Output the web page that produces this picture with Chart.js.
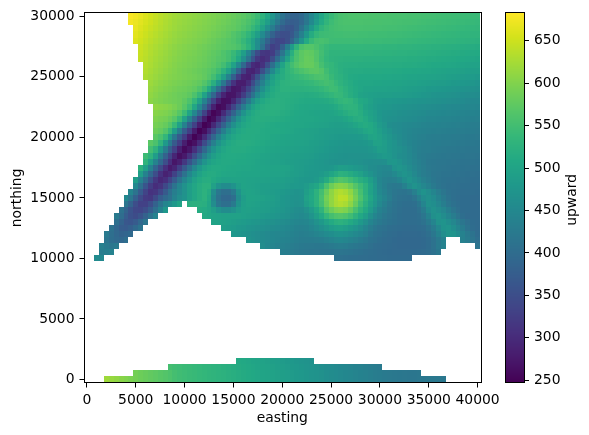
<!DOCTYPE html>
<html><head><meta charset="utf-8">
<style>html,body{margin:0;padding:0;background:#fff}canvas{position:absolute;left:0;top:0}</style>
<script src="https://cdn.jsdelivr.net/npm/chart.js@4"></script>
</head><body>
<canvas id="main" width="589" height="435"></canvas>
<canvas id="bar" width="589" height="435"></canvas>
<script>
const xTicks=[0,5000,10000,15000,20000,25000,30000,35000,40000];
const yTicks=[0,5000,10000,15000,20000,25000,30000];
const cbTicks=[250,300,350,400,450,500,550,600,650];
const colorbarLabel='upward';
const spacing=500;
const vMin=247.3, vMax=682.4;
const viridis=["#440154","#481a6c","#472f7d","#414487","#39568c","#31688e","#2a788e","#23888e","#1f988b","#22a884","#35b779","#54c568","#7ad151","#a5db36","#d2e21b","#fde725"];

const n30000=[680,675,668,660,652,645,638,632,627,622,618,615,612,609,606,603,600,597,594,590,586,582,577,572,565,556,544,528,505,475,442,412,392,385,385,395,418,448,478,505,525,540,550,556,558,560,560,560,560,559,559,558,558,557,556,556,555,554,554,553,552,551,550,549,548,547,546,545,544,543,542,541];
const n29500=[676,671,664,657,650,643,636,630,625,620,616,613,610,607,604,601,598,595,591,587,583,578,573,567,559,549,535,515,490,458,425,398,380,375,378,392,420,452,485,512,532,545,552,556,558,558,558,558,557,557,556,556,555,555,554,553,552,552,551,550,549,548,547,546,545,544,543,542,541,540,539,538];
const n29000=[668,660,653,646,640,634,628,623,618,614,611,608,605,602,599,596,592,588,584,579,576,570,562,552,538,520,495,462,430,395,375,363,362,378,408,445,480,510,530,542,549,552,554,555,555,555,555,554,554,553,553,552,551,551,550,549,548,547,546,545,544,543,542,541,540,539,538,537,536,535,534];
const n28500=[664,656,649,642,636,630,625,620,615,611,608,605,602,599,596,592,588,584,579,574,565,557,547,533,515,490,455,420,385,360,350,352,366,396,435,478,515,535,544,546,548,549,549,550,550,550,549,549,548,548,547,547,546,546,545,544,543,542,541,540,539,538,537,536,535,534,533,532,531,530,529];
const n28000=[660,652,645,638,632,627,622,617,612,608,605,602,599,596,592,588,583,578,573,568,562,552,538,520,495,462,425,385,352,338,338,352,382,425,470,512,540,552,555,552,546,545,545,545,545,545,545,544,544,543,543,542,542,541,540,539,538,537,536,535,534,533,532,531,530,529,528,527,526,525,524];
const n27500=[648,641,634,628,623,618,613,608,604,601,598,595,591,587,583,579,575,571,568,565,558,545,527,500,460,410,360,328,338,380,430,485,530,558,566,566,558,548,540,535,535,535,535,535,535,535,534,534,533,533,532,532,531,530,530,529,528,527,526,525,524,523,522,521,520,519,518,517,516,515];
const n27000=[646,639,632,626,621,616,611,606,602,599,596,593,589,585,580,575,570,562,553,540,520,490,445,395,345,318,314,325,365,415,470,520,555,572,578,575,565,550,538,530,530,530,530,530,530,530,529,529,528,528,527,527,526,525,525,524,523,522,521,520,519,518,517,516,515,514,513,512,511,510];
const n26500=[644,637,630,624,619,614,609,604,600,597,594,591,587,583,578,573,567,562,552,535,508,465,415,362,318,302,312,350,400,450,500,535,558,572,580,578,565,548,535,528,526,525,524,523,523,523,522,522,522,522,521,521,520,520,519,518,518,517,516,515,514,513,512,511,510,509,508,506,505,503];
const n26000=[635,628,622,617,612,607,602,598,595,592,589,585,581,576,570,562,550,530,498,450,395,340,300,292,310,350,405,455,500,530,550,565,575,580,580,570,553,540,535,527,522,520,519,519,518,518,518,518,517,517,517,516,516,515,515,514,513,512,510,509,508,507,506,505,503,502,500,498,497];
const n25500=[632,625,619,614,609,604,600,596,592,589,585,581,576,570,562,548,525,495,445,385,330,292,287,305,350,400,450,490,515,530,540,550,558,565,570,572,565,548,535,530,522,517,515,514,514,513,513,513,513,512,512,511,510,509,508,507,506,505,505,503,502,500,498,497,495,494,492,491,490];
const n25000=[628,622,616,611,606,602,599,596,593,590,587,583,577,567,550,525,490,438,380,325,290,285,315,360,410,455,490,510,517,527,533,538,542,547,552,558,560,553,540,530,525,518,512,510,509,509,508,508,508,507,506,505,504,503,502,501,500,499,498,497,495,494,492,490,489,487,485,484,482];
const n24500=[618,612,607,603,599,595,592,589,586,582,576,565,548,520,475,420,362,310,280,280,302,345,392,438,475,500,515,525,528,530,530,532,535,538,543,548,552,548,538,528,520,514,508,505,504,504,503,503,502,501,500,499,498,496,495,493,492,490,489,487,486,484,482,481,479,477,475,473];
const n24000=[614,608,603,599,595,591,587,585,581,575,563,545,510,458,402,345,298,272,275,298,335,378,422,463,492,510,518,525,525,523,523,524,525,527,530,535,541,547,545,535,525,516,510,505,500,499,498,498,497,496,495,494,492,491,489,487,485,482,481,479,478,476,474,472,470,468,466,465];
const n23500=[610,604,599,595,591,587,583,580,574,560,538,498,445,390,335,290,268,270,290,325,368,412,455,487,505,515,520,520,520,518,517,516,515,516,518,522,527,533,540,538,528,518,510,500,495,493,492,491,490,490,489,488,486,485,483,481,478,475,473,471,470,468,466,464,462,460,459,458];
const n23000=[606,601,597,593,590,587,584,574,560,535,495,440,385,330,285,262,265,292,332,378,422,465,492,508,516,520,522,520,518,516,514,512,510,510,510,511,513,518,525,533,537,533,522,510,505,495,486,484,482,481,480,478,476,474,473,471,470,468,466,465,463,461,459,457,455,453,451,450];
const n22500=[610,607,604,600,593,584,568,545,505,452,395,338,285,255,262,293,335,382,428,468,495,510,517,520,522,522,520,517,514,511,509,507,506,505,505,505,507,512,520,527,530,527,515,500,492,485,480,477,475,473,471,469,467,465,463,461,460,458,456,454,453,451,450,449,447,446,445];
const n22000=[604,601,598,592,583,568,543,502,448,390,332,280,251,262,298,340,385,430,470,495,510,517,520,521,521,520,517,514,511,508,506,504,503,502,501,500,501,504,510,517,523,525,518,505,495,488,478,473,470,468,465,463,461,460,458,456,453,452,450,449,448,446,445,444,442,441,440];
const n21500=[598,594,590,582,568,542,498,442,385,330,280,248,260,295,338,382,428,468,493,508,515,518,518,517,516,515,513,510,508,506,505,505,505,503,501,499,497,495,497,503,510,517,520,512,500,490,480,470,467,464,461,459,457,455,453,451,447,446,445,444,443,441,440,439,437,436,435];
const n21000=[592,587,580,566,540,495,438,380,330,282,248,258,295,338,382,428,465,490,505,512,515,515,514,512,510,509,508,507,506,505,505,503,501,499,497,495,492,491,490,492,496,503,510,515,510,500,485,475,462,458,455,452,450,448,446,444,442,441,440,439,438,436,435,434,432,431,430];
const n20500=[585,578,565,538,488,430,372,328,280,248,262,298,342,388,432,468,492,505,512,515,515,514,512,510,510,510,508,506,504,502,500,498,496,494,491,489,488,487,487,487,488,490,495,505,510,503,492,480,470,460,455,450,447,444,442,440,437,436,435,434,433,432,431,430,429,428,427];
const n20000=[570,558,535,480,420,368,325,278,250,265,300,345,390,435,470,492,505,512,515,515,514,513,512,510,507,505,503,502,501,500,499,498,495,492,490,487,485,483,482,481,481,481,483,488,500,503,495,485,475,465,457,450,445,441,438,435,433,431,430,429,428,427,426,425,424,424,423];
const n19500=[570,558,530,482,425,370,328,282,254,266,300,345,390,435,470,492,506,513,517,517,516,514,512,510,507,505,503,501,500,499,498,497,495,492,490,487,484,481,479,477,476,475,475,476,478,483,495,496,488,478,470,460,452,445,440,436,433,431,429,428,427,426,425,424,423,422,421,420];
const n19000=[550,528,482,428,375,330,285,258,272,305,348,392,435,470,492,505,512,515,515,514,512,510,508,506,503,501,499,497,496,495,494,493,492,490,487,484,481,478,476,474,473,472,472,472,473,475,481,490,487,478,470,465,457,448,440,434,431,430,427,425,423,422,421,420,419,418,418,417];
const n18500=[545,528,488,432,382,335,292,263,275,308,350,392,435,468,490,503,510,512,512,511,510,508,506,504,502,500,498,496,494,493,492,491,490,488,486,483,480,477,474,472,470,469,468,468,468,468,470,472,477,483,480,470,462,458,450,441,433,429,425,423,421,420,419,418,417,416,415,415,414];
const n18000=[530,490,442,395,350,305,272,285,318,358,398,440,472,492,503,509,511,511,510,509,508,506,504,502,500,498,496,495,493,491,490,488,487,485,483,480,477,474,471,469,468,468,470,469,466,463,462,461,461,463,475,478,470,460,452,444,436,428,422,420,418,417,416,415,414,413,412,412,411];
const n17500=[525,492,440,388,345,305,278,292,328,368,408,448,480,498,508,512,512,510,508,507,506,505,504,503,502,501,500,500,500,500,497,493,489,486,483,481,479,477,476,478,484,490,488,484,480,475,468,460,457,452,448,450,470,475,468,458,447,438,430,423,419,417,415,414,413,412,411,410,409,408];
const n17000=[490,440,392,350,310,287,298,332,372,410,448,478,498,510,515,514,510,506,505,505,503,502,502,502,501,500,499,498,497,497,494,491,488,485,482,480,480,483,490,503,515,525,522,515,505,495,482,470,460,450,445,443,452,465,472,465,452,440,430,425,418,415,413,412,411,410,408,407,406,405];
const n16500=[490,442,398,355,318,295,305,335,372,410,445,472,495,510,517,518,510,503,498,498,500,500,500,498,497,496,495,494,493,492,492,489,486,483,480,478,478,483,495,515,540,555,565,560,548,535,520,510,490,470,447,438,434,435,445,462,472,462,450,438,428,420,414,411,409,408,407,406,405,404,403];
const n16000=[450,405,362,325,302,312,340,375,412,445,468,490,505,517,523,523,495,470,458,458,470,490,500,498,495,493,491,490,489,488,488,485,482,481,480,485,495,505,525,558,585,600,605,600,585,565,545,525,500,475,448,436,425,422,424,437,458,471,462,448,438,425,416,410,407,406,405,404,403,402,401];
const n15500=[445,412,372,335,310,315,338,370,405,432,450,468,490,505,517,525,515,460,420,405,405,425,470,495,500,497,494,491,489,487,484,482,478,474,470,472,490,505,525,550,582,608,625,632,626,610,583,553,525,497,478,452,440,426,418,414,413,418,435,458,470,460,445,430,417,408,405,403,402,401,401,400];
const n15000=[450,418,380,345,322,318,342,375,395,410,440,460,470,490,505,517,525,510,450,410,395,392,405,460,488,500,500,497,495,492,490,485,478,474,470,468,470,495,508,525,555,590,610,628,640,638,618,590,560,532,505,482,460,445,430,415,410,408,407,415,435,458,465,455,440,425,412,405,402,400,399,398,398];
const n14500a=[415,385,350,330,330,350,382,415,445,460,480,500];
const n14500b=[520,522,522,520,505,460,420,405,405,425,470,492,497,495,493,491,489,487,483,478,474,470,466,468,490,505,525,552,585,610,626,632,626,608,580,548,522,495,475,452,436,422,412,407,404,403,405,420,445,466,462,448,433,418,408,403,400,399,398,398];
const n14000a=[410,385,358,340,338,350,375,405,440,480];
const n14000b=[515,512,505,490,470,458,458,468,485,493,494,492,490,488,486,483,480,475,470,465,460,458,468,485,505,530,565,585,598,602,597,580,555,530,510,485,462,440,428,418,410,405,402,401,402,410,428,455,468,460,448,432,418,406,400,399,398,398];
const n13500a=[425,402,375,355,348,360,382,410,440];
const n13500b=[510,505,500,497,495,495,496,495,493,490,488,486,483,480,477,474,470,466,460,455,452,457,472,490,510,535,552,562,565,560,548,528,508,490,465,445,432,422,414,408,404,402,401,401,405,418,440,465,472,460,445,430,415,403,398,397,397];
const n13000a=[405,385,365,362,372,392,415];
const n13000b=[500,497,495,493,490,487,484,481,478,475,472,469,466,463,460,456,451,447,445,447,455,468,482,497,512,522,525,520,510,497,482,465,445,432,424,416,411,407,404,402,402,402,404,410,425,445,468,473,462,448,432,418,406,399,397];
const n12500a=[410,390,375,372,380,395,412];
const n12500b=[490,487,484,480,477,473,470,467,464,461,458,455,452,449,445,440,438,440,447,455,465,475,487,493,495,490,482,472,460,445,430,420,413,408,404,401,399,398,398,398,399,402,412,428,450,470,474,462,445,428,412,402,397];
const n12000a=[425,405,392,385,388,395];
const n12000b=[478,474,470,467,463,460,456,452,449,446,447,444,440,436,432,434,438,443,448,455,462,468,470,466,460,452,445,435,422,412,408,403,400,397,395,394,394,394,395,397,405,420,440,462,474,472,458,440,425,412,400];
const n11500a=[415,403,396,393,403];
const n11500b=[470,465,460,456,452,449,445,442,440,436,432,428,428,429,430,433,438,444,448,450,447,442,435,428,421,413,408,403,400,398,395,393,392,392,392,393,395,400,410,425,440];
const n11500c=[438,428,415,405];
const n11000a=[435,425,418,425];
const n11000b=[460,450,445,440,437,434,431,427,424,422,421,420,420,422,425,428,430,428,424,420,416,412,406,402,400,398,396,394,393,392,392,392,393,395,400,410,425,440];
const n11000c=[412];
const n10500a=[430,432,440];
const n10500b=[433,430,427,423,420,418,416,415,414,414,414,415,415,414,412,409,407,404,402,400,398,396,395,394,394,394,394,395,396,398,402,408,420];
const n10000a=[455,450];
const n10000b=[408,406,405,404,403,402,401,400,399,397,397,396,396,396,396,396];
const n1500=[510,508,505,502,500,497,494,491,488,485,482,479,476,473,470,466];
const n1000=[552,548,545,542,540,537,535,532,530,527,525,522,519,516,513,510,508,505,502,500,497,494,491,488,485,482,479,476,473,470,466,462,458,455,452,449,446,443,440,437,434,431,428,425];
const n500=[590,585,581,577,573,569,565,560,552,548,545,542,540,537,535,532,530,527,525,522,519,516,513,510,508,505,502,500,497,494,491,488,485,482,479,476,473,470,466,462,458,455,452,449,446,443,440,437,434,431,428,425,423,421,420,419,418,418,419];
const n0=[620,615,610,605,600,595,590,585,581,577,573,569,565,560,552,548,545,542,540,537,535,532,530,527,525,522,519,516,513,510,508,505,502,500,497,494,491,488,485,482,479,476,473,470,466,462,458,455,452,449,446,443,440,437,434,431,428,425,423,421,420,419,418,418,419,420,421,422,421,420];

const rowTable=[
[30000,9,n30000],[29500,9,n29500],[29000,10,n29000],[28500,10,n28500],[28000,10,n28000],
[27500,11,n27500],[27000,11,n27000],[26500,11,n26500],[26000,12,n26000],[25500,12,n25500],[25000,12,n25000],
[24500,13,n24500],[24000,13,n24000],[23500,13,n23500],[23000,13,n23000],
[22500,14,n22500],[22000,14,n22000],[21500,14,n21500],[21000,14,n21000],[20500,14,n20500],[20000,14,n20000],
[19500,13,n19500],[19000,13,n19000],[18500,12,n18500],[18000,12,n18000],[17500,11,n17500],[17000,11,n17000],
[16500,10,n16500],[16000,10,n16000],[15500,9,n15500],[15000,8,n15000],
[14500,8,n14500a],[14500,21,n14500b],[14000,7,n14000a],[14000,23,n14000b],[13500,6,n13500a],[13500,24,n13500b],
[13000,6,n13000a],[13000,26,n13000b],[12500,5,n12500a],[12500,28,n12500b],[12000,4,n12000a],[12000,30,n12000b],
[11500,4,n11500a],[11500,33,n11500b],[11500,77,n11500c],[11000,3,n11000a],[11000,36,n11000b],[11000,80,n11000c],
[10500,3,n10500a],[10500,40,n10500b],[10000,2,n10000a],[10000,51,n10000b],
[1500,31,n1500],[1000,17,n1000],[500,10,n500],[0,4,n0]
];

function hexRgb(h){return [1,3,5].map(i=>parseInt(h.substr(i,2),16));}
const stops=viridis.map(hexRgb);
function colorOf(v){
  const t=Math.max(0,Math.min(1,(v-vMin)/(vMax-vMin)))*(stops.length-1);
  const a=Math.min(stops.length-2,Math.floor(t)),f=t-a;
  const c=stops[a].map((s,n)=>Math.round(s+(stops[a+1][n]-s)*f));
  return `rgb(${c[0]},${c[1]},${c[2]})`;
}
const cells=[];
rowTable.forEach(([north,start,vals])=>vals.forEach((v,n)=>{
  cells.push({x:(start+n)*spacing,y:north,v});
}));
const font={family:"'DejaVu Sans'",size:13.9};
const axisCommon=(ticks)=>({
  type:'linear',bounds:'data',
  afterBuildTicks:s=>{s.ticks=ticks.map(v=>({value:v}));},
  grid:{display:true,drawOnChartArea:false,drawTicks:true,tickLength:5,tickColor:'#000',tickWidth:1},
  border:{display:true,color:'#000',width:1},
  ticks:{color:'#000',font,padding:5,maxRotation:0,autoSkip:false,callback:v=>String(v)}
});
const cellPlugin={id:'cells',beforeDatasetsDraw(c){
  const X=c.scales.x,Y=c.scales.y,g=c.ctx,h=spacing/2;
  g.save();
  cells.forEach(p=>{
    const l=Math.round(X.getPixelForValue(p.x-h)),r=Math.round(X.getPixelForValue(p.x+h));
    const t=Math.round(Y.getPixelForValue(p.y+h)),b=Math.round(Y.getPixelForValue(p.y-h));
    g.fillStyle=colorOf(p.v);g.fillRect(l,t,r-l,b-t);
  });
  g.restore();
}};
const framePlugin={id:'frame',afterDraw(c){
  const a=c.chartArea,g=c.ctx;g.save();g.strokeStyle='#000';g.lineWidth=1;
  g.strokeRect(Math.round(a.left)-.5,Math.round(a.top)-.5,Math.round(a.right-a.left)+1,Math.round(a.bottom-a.top)+1);g.restore();
}};
new Chart(document.getElementById('main'),{
  type:'scatter',
  data:{datasets:[{label:'upward',data:cells,pointRadius:0,pointHoverRadius:0}]},
  plugins:[cellPlugin,framePlugin],
  options:{responsive:false,animation:false,events:[],
    layout:{padding:{left:0,right:109,top:12.5,bottom:0}},
    plugins:{legend:{display:false},tooltip:{enabled:false}},
    scales:{
      x:{...axisCommon(xTicks),min:-250,max:40250,afterFit:s=>{s.height=52.5;},
         title:{display:true,text:'easting',color:'#000',font,padding:{top:2,bottom:8}}},
      y:{...axisCommon(yTicks),min:-250,max:30250,afterFit:s=>{s.width=84.5;},
         title:{display:true,text:'northing',color:'#000',font,padding:{top:9,bottom:0}}}
    }
  }
});
const gradPlugin={id:'grad',beforeDatasetsDraw(c){
  const a=c.chartArea,Y=c.scales.y,g=c.ctx;g.save();
  for(let px=Math.floor(a.top);px<Math.ceil(a.bottom);px++){
    g.fillStyle=colorOf(Y.getValueForPixel(px+.5));g.fillRect(a.left,px,a.right-a.left,1);
  }
  g.restore();
}};
const barLabelPlugin={id:'barLabel',afterDraw(c){
  const a=c.chartArea,g=c.ctx;g.save();
  g.translate(a.right+48,(a.top+a.bottom)/2+2);g.rotate(-Math.PI/2);
  g.font="13.9px 'DejaVu Sans'";g.fillStyle='#000';g.textAlign='center';g.textBaseline='middle';
  g.fillText(colorbarLabel,0,0);g.restore();
}};
new Chart(document.getElementById('bar'),{
  type:'scatter',
  data:{datasets:[{label:'colorbar',data:[{x:0,y:vMin},{x:0,y:vMax}],pointRadius:0,pointHoverRadius:0}]},
  plugins:[gradPlugin,framePlugin,barLabelPlugin],
  options:{responsive:false,animation:false,events:[],
    layout:{padding:{left:506,right:0,top:12.5,bottom:52.5}},
    plugins:{legend:{display:false},tooltip:{enabled:false}},
    scales:{
      x:{type:'linear',min:0,max:1,display:false},
      y:{...axisCommon(cbTicks),position:'right',min:vMin,max:vMax,afterFit:s=>{s.width=65;}}
    }
  }
});
</script>
</body></html>
